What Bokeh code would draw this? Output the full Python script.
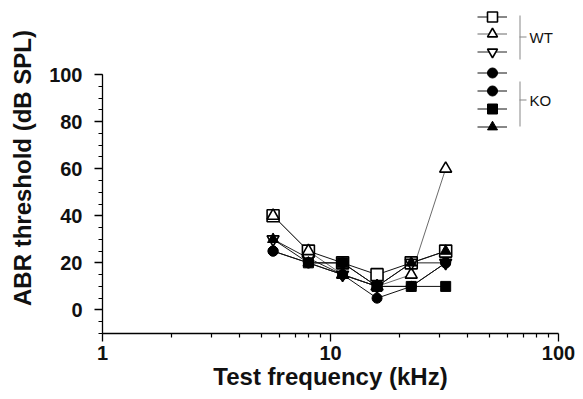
from bokeh.plotting import figure
from bokeh.models import (LogAxis, LinearAxis, FixedTicker, Range1d, LogScale, PrintfTickFormatter,
                          Legend, LegendItem, Label, BoxAnnotation, ColumnDataSource)
from bokeh.embed import file_html
from bokeh.resources import INLINE

nan = float("nan")

# ---- data ----
freq_khz = [5.6, 8, 11.3, 16, 22.6, 32]
wt_square = [40, 25, 20, 15, 20, 25]
wt_up = [40, 25, 15, 10, 15, 60]
wt_down = [30, 22, 15, 10, 20, 20]
ko_circle_a = [25, 20, 15, 5, 10, 20]
ko_circle_b = [25, 20, 20, 10, 10, 20]
ko_square = [nan, 20, 20, 10, 10, 10]
ko_triangle = [30, 20, 15, 10, 20, 25]

y_major_ticks = [0, 20, 40, 60, 80, 100]
y_minor_ticks = [-10, -5, 0, 5, 10, 15, 20, 25, 30, 35, 40, 45, 50, 55, 60, 65, 70, 75, 80, 85, 90, 95, 100]
x_major_ticks = [1, 10, 100]
x_minor_ticks = [2, 3, 4, 5, 6, 7, 8, 9, 20, 30, 40, 50, 60, 70, 80, 90]
group_labels = ["WT", "KO"]

FONT = "Liberation Sans"

# frame spans the whole top so the key (drawn inside the frame) is not clipped;
# the y axis itself is bounded to -10..100
p = figure(width=583, height=399, output_backend="svg", toolbar_location=None,
           x_axis_type=None, y_axis_type=None,
           x_range=Range1d(1, 100), y_range=Range1d(-10, 130.6),
           min_border_left=102, min_border_right=25, min_border_top=2, min_border_bottom=66)
p.x_scale = LogScale()
p.outline_line_color = None
p.xgrid.visible = False
p.ygrid.visible = False
p.background_fill_color = "white"
p.border_fill_color = "white"

xaxis = LogAxis(ticker=FixedTicker(ticks=x_major_ticks, minor_ticks=x_minor_ticks),
                formatter=PrintfTickFormatter(format="%d"), bounds=(1, 100))
yaxis = LinearAxis(ticker=FixedTicker(ticks=y_major_ticks, minor_ticks=y_minor_ticks), bounds=(-10, 100))

for ax in (xaxis, yaxis):
    ax.axis_line_color = "black"
    ax.axis_line_width = 1.3
    ax.major_tick_line_color = "black"
    ax.minor_tick_line_color = "black"
    ax.major_tick_line_width = 1.3
    ax.minor_tick_line_width = 1.2
    ax.major_tick_in = 0
    ax.minor_tick_in = 0
    ax.major_tick_out = 8
    ax.minor_tick_out = 4
    ax.major_label_text_font = FONT
    ax.major_label_text_font_style = "bold"
    ax.major_label_text_font_size = "20px"
    ax.major_label_text_color = "#111111"
    ax.axis_label_text_font = FONT
    ax.axis_label_text_font_style = "bold"
    ax.axis_label_text_font_size = "24px"
    ax.axis_label_text_color = "#111111"

xaxis.axis_label = "Test frequency (kHz)"
xaxis.major_label_standoff = 4
xaxis.axis_label_standoff = 0
yaxis.axis_label = "ABR threshold (dB SPL)"
yaxis.major_label_standoff = 12
yaxis.axis_label_standoff = 10
p.add_layout(xaxis, "below")
p.add_layout(yaxis, "left")

series = [
    # (values, marker, fill, size, line color, line width)
    (wt_square, "square", "white", 12, "#111111", 1.0),
    (wt_up, "triangle", "white", 12, "#444444", 0.8),
    (wt_down, "inverted_triangle", "white", 12, "#222222", 1.0),
    (ko_circle_a, "circle", "black", 10, "#111111", 1.0),
    (ko_circle_b, "circle", "black", 10, "#111111", 1.0),
    (ko_square, "square", "black", 10, "#111111", 1.0),
    (ko_triangle, "triangle", "black", 11, "#111111", 1.0),
]

line_rs = []
for vals, mk, fill, size, lc, lw in series:
    src = ColumnDataSource(dict(x=freq_khz, y=vals))
    line_rs.append(p.line("x", "y", source=src, line_color=lc, line_width=lw))

scat_rs = [None] * len(series)
order = [0, 1, 2, 5, 3, 4, 6]
for i in order:
    vals, mk, fill, size, lc, lw = series[i]
    src = ColumnDataSource(dict(x=freq_khz, y=vals))
    scat_rs[i] = p.scatter("x", "y", source=src, marker=mk, size=size,
                           fill_color=fill, line_color="black",
                           line_width=1.6 if fill == "white" else 1.0)

# one key entry per series (keeps the key's row pitch tight with full-size markers)
key_bottoms = [304, 287, 269, 248, 230, 212, 194]
for i, vy in enumerate(key_bottoms):
    leg = Legend(items=[LegendItem(label="", renderers=[line_rs[i], scat_rs[i]])],
                 location=(375, vy), glyph_width=30, glyph_height=25,
                 spacing=0, padding=0, margin=0, label_width=0, label_standoff=0,
                 label_height=0, border_line_color=None, background_fill_alpha=0,
                 label_text_font_size="1px")
    p.add_layout(leg, "center")

for (y0, y1, ym), lab in zip([(274, 318, 296), (207, 252, 233)], group_labels):
    p.add_layout(BoxAnnotation(left=417, right=418, bottom=y0, top=y1,
                               left_units="screen", right_units="screen",
                               bottom_units="screen", top_units="screen",
                               fill_color="#888888", fill_alpha=1, line_color=None))
    p.add_layout(BoxAnnotation(left=417, right=424, bottom=ym, top=ym + 1,
                               left_units="screen", right_units="screen",
                               bottom_units="screen", top_units="screen",
                               fill_color="#888888", fill_alpha=1, line_color=None))
    p.add_layout(Label(x=427, y=ym, x_units="screen", y_units="screen", text=lab,
                       text_font=FONT, text_font_size="15px",
                       text_baseline="middle", text_color="#111111"))

open("out.html", "w").write(file_html(p, INLINE))
